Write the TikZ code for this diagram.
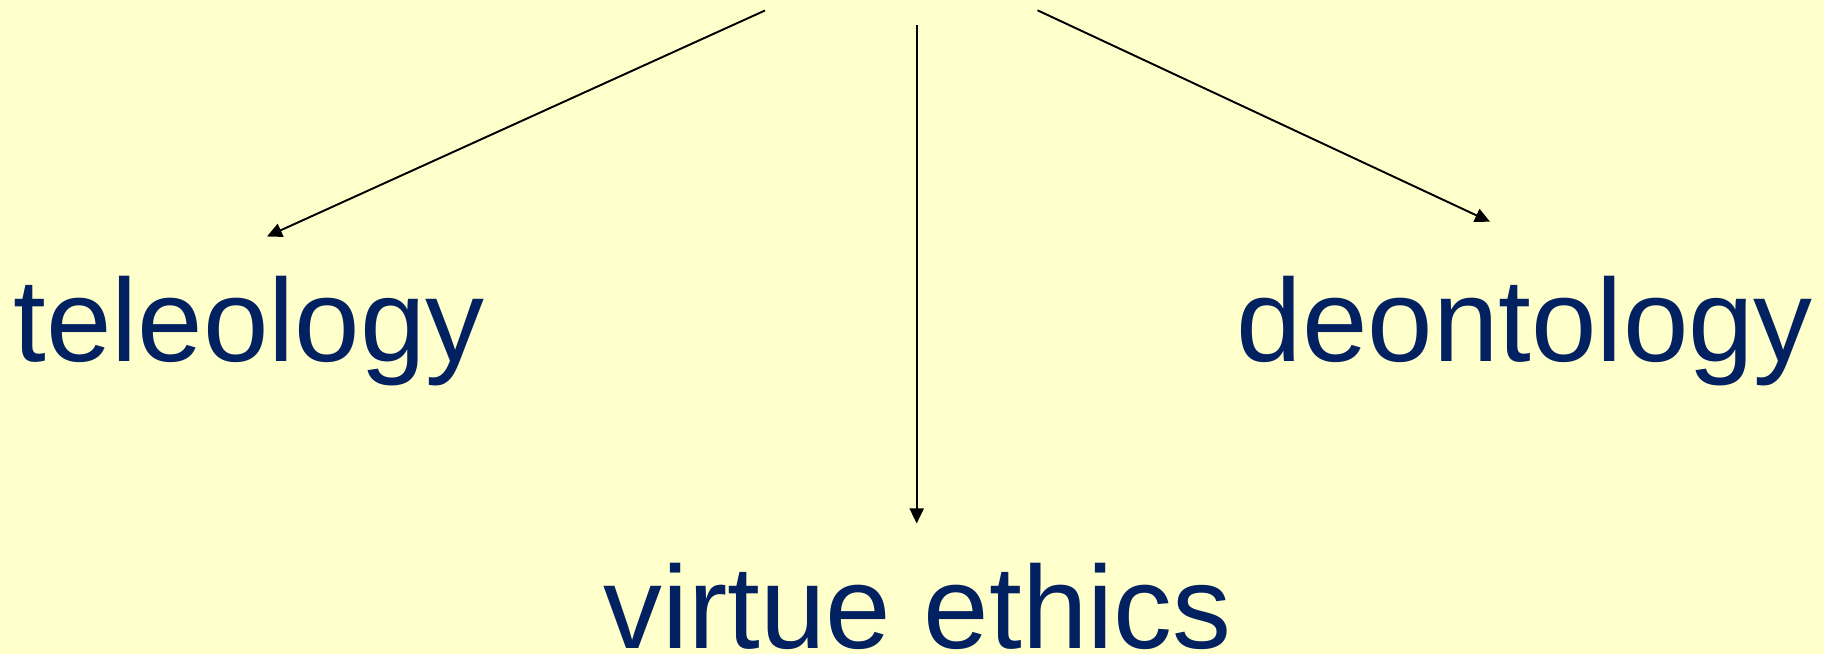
\documentclass[tikz,border=0pt]{standalone}
\usepackage{fontspec}
\setmainfont{Liberation Sans}
\definecolor{paper}{RGB}{255,255,204}
\definecolor{ink}{RGB}{2,33,96}
\usepackage{tikz}
\usetikzlibrary{arrows.meta,positioning}
\tikzset{
  theory/.style={anchor=base west,inner sep=0pt,text=ink,font=\fontsize{67}{80}\selectfont},
  branch/.style={-{Triangle[length=0.3cm,width=0.28cm]},line width=1.1pt,black}
}
\begin{document}
\begin{tikzpicture}
        \fill[paper] (0,0) rectangle (36.48,13.08);
        \useasboundingbox (0,0) rectangle (36.48,13.08);
        \node[theory] (tele) at (0.26,5.846){teleology};
        \node[theory] (deon) at (24.73,5.846){deontology};
        \node[theory,text depth=0pt] (virt) at (12.06,0.1){virtue ethics};
        % free ends, the source above is outside the picture
        \coordinate (srcl) at (15.30,12.87);
        \coordinate (srcm) at (18.334,12.58);
        \coordinate (srcr) at (20.75,12.874);
        \coordinate (tipl) at (5.34,8.35);
        \coordinate (tipm) at (18.334,2.61);
        \coordinate (tipr) at (29.80,8.646);
        \draw[branch] (srcl) -- (tipl);
        \draw[branch] (srcm) -- (tipm);
        \draw[branch] (srcr) -- (tipr);
      \end{tikzpicture}
\end{document}
